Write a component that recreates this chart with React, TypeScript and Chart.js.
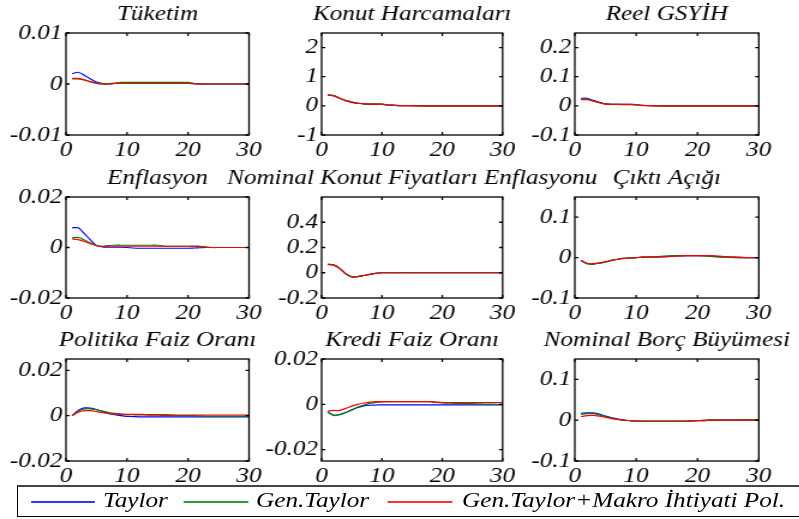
import React, { useEffect, useRef } from "react";
import { Chart, registerables } from "chart.js";
Chart.register(...registerables);

// ---------- data ----------
const periods = [1, 2, 3, 4, 5, 6, 7, 8, 9, 10, 11, 12, 13, 14, 15, 16, 17, 18, 19, 20, 21, 22, 23, 24, 25, 26, 27, 28, 29, 30];
const xTickValues = [0, 10, 20, 30];
const seriesNames = ["Taylor", "Gen.Taylor", "Gen.Taylor+Makro İhtiyati Pol."];
const seriesColors = ["#0000FF", "#008000", "#FF0000"];

const tuketimTaylor = [0.0020, 0.0023, 0.0017, 0.0010, 0.0004, 0.0001, 0.0000, 0.0001, 0.0002, 0.0002, 0.0002, 0.0002, 0.0002, 0.0002, 0.0002, 0.0002, 0.0002, 0.0002, 0.0002, 0.0002, 0.0001, 0.0000, 0.0000, 0.0000, 0.0000, 0.0000, 0.0000, 0.0000, 0.0000, 0.0000];
const tuketimGen = [0.0011, 0.0011, 0.0008, 0.0004, 0.0001, 0.0000, 0.0001, 0.0002, 0.0003, 0.0003, 0.0003, 0.0003, 0.0003, 0.0003, 0.0003, 0.0003, 0.0003, 0.0003, 0.0003, 0.0003, 0.0001, 0.0000, 0.0000, 0.0000, 0.0000, 0.0000, 0.0000, 0.0000, 0.0000, 0.0000];
const tuketimMakro = [0.0010, 0.0010, 0.0008, 0.0005, 0.0002, 0.0000, 0.0000, 0.0001, 0.0001, 0.0001, 0.0001, 0.0001, 0.0001, 0.0001, 0.0001, 0.0001, 0.0001, 0.0001, 0.0001, 0.0001, 0.0000, 0.0000, 0.0000, 0.0000, 0.0000, 0.0000, 0.0000, 0.0000, 0.0000, 0.0000];

const konutTaylor = [0.38, 0.35, 0.26, 0.18, 0.13, 0.09, 0.07, 0.06, 0.06, 0.06, 0.03, 0.02, 0.01, 0.01, 0.01, 0.01, 0.00, 0.00, 0.00, 0.00, 0.00, 0.00, 0.00, 0.00, 0.00, 0.00, 0.00, 0.00, 0.00, 0.00];
const konutGen = [0.37, 0.35, 0.26, 0.18, 0.13, 0.09, 0.07, 0.06, 0.06, 0.06, 0.03, 0.02, 0.01, 0.01, 0.01, 0.00, 0.00, 0.00, 0.00, 0.00, 0.00, 0.00, 0.00, 0.00, 0.00, 0.00, 0.00, 0.00, 0.00, 0.00];
const konutMakro = [0.37, 0.34, 0.25, 0.18, 0.12, 0.09, 0.07, 0.06, 0.06, 0.05, 0.03, 0.02, 0.01, 0.01, 0.00, 0.00, 0.00, 0.00, 0.00, 0.00, 0.00, 0.00, 0.00, 0.00, 0.00, 0.00, 0.00, 0.00, 0.00, 0.00];

const gsyihTaylor = [0.026, 0.026, 0.019, 0.012, 0.007, 0.005, 0.005, 0.005, 0.005, 0.004, 0.002, 0.001, 0.001, 0.000, 0.000, 0.000, 0.000, 0.000, 0.000, 0.000, 0.000, 0.000, 0.000, 0.000, 0.000, 0.000, 0.000, 0.000, 0.000, 0.000];
const gsyihGen = [0.023, 0.023, 0.017, 0.011, 0.007, 0.005, 0.005, 0.005, 0.005, 0.004, 0.002, 0.001, 0.000, 0.000, 0.000, 0.000, 0.000, 0.000, 0.000, 0.000, 0.000, 0.000, 0.000, 0.000, 0.000, 0.000, 0.000, 0.000, 0.000, 0.000];
const gsyihMakro = [0.021, 0.021, 0.016, 0.011, 0.006, 0.005, 0.005, 0.004, 0.004, 0.003, 0.001, 0.001, 0.000, 0.000, 0.000, 0.000, 0.000, 0.000, 0.000, 0.000, 0.000, 0.000, 0.000, 0.000, 0.000, 0.000, 0.000, 0.000, 0.000, 0.000];

const enfTaylor = [0.0078, 0.0078, 0.0055, 0.0030, 0.0008, 0.0002, 0.0001, 0.0001, 0.0001, 0.0000, -0.0002, -0.0003, -0.0003, -0.0003, -0.0003, -0.0003, -0.0003, -0.0003, -0.0003, -0.0003, -0.0002, -0.0001, 0.0000, 0.0000, 0.0000, 0.0000, 0.0000, 0.0000, 0.0000, 0.0000];
const enfGen = [0.0038, 0.0040, 0.0030, 0.0018, 0.0008, 0.0005, 0.0008, 0.0009, 0.0009, 0.0009, 0.0009, 0.0009, 0.0009, 0.0009, 0.0009, 0.0006, 0.0005, 0.0005, 0.0005, 0.0005, 0.0005, 0.0003, 0.0001, 0.0000, 0.0000, 0.0000, 0.0000, 0.0000, 0.0000, 0.0000];
const enfMakro = [0.0034, 0.0031, 0.0024, 0.0015, 0.0007, 0.0004, 0.0005, 0.0005, 0.0005, 0.0005, 0.0005, 0.0005, 0.0005, 0.0005, 0.0005, 0.0005, 0.0005, 0.0005, 0.0005, 0.0005, 0.0005, 0.0005, 0.0002, 0.0000, 0.0000, 0.0000, 0.0000, 0.0000, 0.0000, 0.0000];

const nkfTaylor = [0.068, 0.063, 0.035, -0.008, -0.033, -0.030, -0.022, -0.013, -0.004, 0.000, 0.001, 0.001, 0.001, 0.001, 0.000, 0.000, 0.000, 0.000, 0.000, 0.000, 0.000, 0.000, 0.000, 0.000, 0.000, 0.000, 0.000, 0.000, 0.000, 0.000];
const nkfGen = [0.066, 0.062, 0.034, -0.008, -0.033, -0.030, -0.022, -0.013, -0.004, 0.000, 0.001, 0.001, 0.001, 0.000, 0.000, 0.000, 0.000, 0.000, 0.000, 0.000, 0.000, 0.000, 0.000, 0.000, 0.000, 0.000, 0.000, 0.000, 0.000, 0.000];
const nkfMakro = [0.064, 0.060, 0.033, -0.009, -0.034, -0.031, -0.022, -0.013, -0.005, 0.000, 0.000, 0.000, 0.000, 0.000, 0.000, 0.000, 0.000, 0.000, 0.000, 0.000, 0.000, 0.000, 0.000, 0.000, 0.000, 0.000, 0.000, 0.000, 0.000, 0.000];

const caTaylor = [-0.007, -0.015, -0.016, -0.014, -0.011, -0.007, -0.004, -0.002, -0.001, 0.000, 0.001, 0.001, 0.001, 0.002, 0.003, 0.004, 0.004, 0.005, 0.005, 0.005, 0.005, 0.004, 0.003, 0.002, 0.001, 0.001, 0.000, 0.000, 0.000, 0.000];
const caGen = [-0.007, -0.015, -0.016, -0.014, -0.011, -0.007, -0.004, -0.002, -0.001, 0.000, 0.001, 0.001, 0.002, 0.003, 0.004, 0.005, 0.005, 0.005, 0.005, 0.005, 0.004, 0.003, 0.002, 0.001, 0.001, 0.000, 0.000, 0.000, 0.000, 0.000];
const caMakro = [-0.007, -0.014, -0.015, -0.013, -0.010, -0.007, -0.004, -0.002, -0.001, 0.000, 0.001, 0.001, 0.001, 0.002, 0.002, 0.003, 0.004, 0.005, 0.005, 0.005, 0.005, 0.005, 0.004, 0.003, 0.002, 0.001, 0.001, 0.000, 0.000, 0.000];

const pfTaylor = [0.0000, 0.0023, 0.0034, 0.0033, 0.0027, 0.0018, 0.0010, 0.0004, 0.0000, -0.0003, -0.0004, -0.0005, -0.0005, -0.0005, -0.0005, -0.0005, -0.0005, -0.0005, -0.0005, -0.0005, -0.0005, -0.0005, -0.0005, -0.0005, -0.0005, -0.0005, -0.0005, -0.0005, -0.0005, -0.0005];
const pfGen = [0.0000, 0.0020, 0.0030, 0.0030, 0.0026, 0.0020, 0.0014, 0.0010, 0.0007, 0.0005, 0.0004, 0.0003, 0.0003, 0.0002, 0.0002, 0.0001, 0.0000, 0.0000, 0.0000, 0.0000, 0.0000, -0.0001, -0.0002, -0.0002, -0.0002, -0.0002, -0.0002, -0.0002, -0.0002, -0.0002];
const pfMakro = [0.0000, 0.0015, 0.0022, 0.0022, 0.0018, 0.0013, 0.0009, 0.0007, 0.0006, 0.0006, 0.0006, 0.0006, 0.0005, 0.0005, 0.0005, 0.0005, 0.0004, 0.0003, 0.0003, 0.0003, 0.0003, 0.0003, 0.0003, 0.0003, 0.0003, 0.0003, 0.0003, 0.0003, 0.0003, 0.0003];

const kfTaylor = [-0.0033, -0.0048, -0.0045, -0.0036, -0.0025, -0.0014, -0.0007, -0.0004, -0.0003, -0.0002, -0.0002, -0.0002, -0.0002, -0.0002, -0.0002, -0.0002, -0.0002, -0.0002, -0.0002, -0.0002, -0.0002, -0.0002, -0.0002, -0.0002, -0.0002, -0.0002, -0.0002, -0.0002, -0.0002, -0.0002];
const kfGen = [-0.0035, -0.0049, -0.0046, -0.0036, -0.0024, -0.0012, -0.0003, 0.0004, 0.0009, 0.0011, 0.0012, 0.0012, 0.0012, 0.0012, 0.0012, 0.0012, 0.0012, 0.0012, 0.0008, 0.0006, 0.0005, 0.0004, 0.0004, 0.0003, 0.0003, 0.0002, 0.0001, 0.0001, 0.0000, 0.0000];
const kfMakro = [-0.0030, -0.0027, -0.0027, -0.0018, -0.0008, 0.0000, 0.0006, 0.0010, 0.0012, 0.0012, 0.0012, 0.0012, 0.0012, 0.0012, 0.0012, 0.0012, 0.0012, 0.0012, 0.0010, 0.0008, 0.0008, 0.0008, 0.0008, 0.0008, 0.0008, 0.0008, 0.0008, 0.0008, 0.0008, 0.0008];

const nbTaylor = [0.017, 0.018, 0.018, 0.015, 0.010, 0.006, 0.003, 0.000, -0.001, -0.002, -0.003, -0.003, -0.003, -0.003, -0.003, -0.003, -0.003, -0.003, -0.002, -0.001, -0.001, 0.000, 0.000, 0.000, 0.000, 0.000, 0.000, 0.000, 0.000, 0.000];
const nbGen = [0.014, 0.016, 0.016, 0.013, 0.009, 0.005, 0.002, 0.000, -0.001, -0.002, -0.003, -0.003, -0.003, -0.003, -0.003, -0.003, -0.003, -0.003, -0.002, -0.001, 0.000, 0.000, 0.000, 0.000, 0.000, 0.000, 0.001, 0.001, 0.001, 0.001];
const nbMakro = [0.009, 0.011, 0.012, 0.010, 0.007, 0.004, 0.002, 0.000, -0.001, -0.002, -0.002, -0.002, -0.002, -0.002, -0.002, -0.002, -0.002, -0.002, -0.001, -0.001, -0.001, 0.000, 0.000, 0.000, 0.000, 0.000, 0.000, 0.000, 0.000, 0.000];

// ---------- layout ----------
const S = 1.2; // horizontal stretch of the whole figure
const FONT = "'Liberation Serif', 'Times New Roman', serif";
const FONT_SIZE = 21;
const COLS = [[66, 249], [322, 503], [575, 759]];
const ROWS = [[33, 135], [197, 298], [359, 461]];
const PAD_L = 100, PAD_R = 100, PAD_T = 32, PAD_B = 30;

type PanelCfg = {
  title: string; col: number; row: number;
  min: number; max: number; yTicks: number[]; yLabels: string[];
  series: number[][];
};

const panels: PanelCfg[] = [
  { title: "Tüketim", col: 0, row: 0, min: -0.01, max: 0.01, yTicks: [-0.01, 0, 0.01], yLabels: ["-0.01", "0", "0.01"], series: [tuketimTaylor, tuketimGen, tuketimMakro] },
  { title: "Konut Harcamaları", col: 1, row: 0, min: -1, max: 2.5, yTicks: [-1, 0, 1, 2], yLabels: ["-1", "0", "1", "2"], series: [konutTaylor, konutGen, konutMakro] },
  { title: "Reel GSYİH", col: 2, row: 0, min: -0.1, max: 0.25, yTicks: [-0.1, 0, 0.1, 0.2], yLabels: ["-0.1", "0", "0.1", "0.2"], series: [gsyihTaylor, gsyihGen, gsyihMakro] },
  { title: "Enflasyon", col: 0, row: 1, min: -0.02, max: 0.02, yTicks: [-0.02, 0, 0.02], yLabels: ["-0.02", "0", "0.02"], series: [enfTaylor, enfGen, enfMakro] },
  { title: "Nominal Konut Fiyatları Enflasyonu", col: 1, row: 1, min: -0.2, max: 0.6, yTicks: [-0.2, 0, 0.2, 0.4], yLabels: ["-0.2", "0", "0.2", "0.4"], series: [nkfTaylor, nkfGen, nkfMakro] },
  { title: "Çıktı Açığı", col: 2, row: 1, min: -0.1, max: 0.15, yTicks: [-0.1, 0, 0.1], yLabels: ["-0.1", "0", "0.1"], series: [caTaylor, caGen, caMakro] },
  { title: "Politika Faiz Oranı", col: 0, row: 2, min: -0.02, max: 0.025, yTicks: [-0.02, 0, 0.02], yLabels: ["-0.02", "0", "0.02"], series: [pfTaylor, pfGen, pfMakro] },
  { title: "Kredi Faiz Oranı", col: 1, row: 2, min: -0.025, max: 0.02, yTicks: [-0.02, 0, 0.02], yLabels: ["-0.02", "0", "0.02"], series: [kfTaylor, kfGen, kfMakro] },
  { title: "Nominal Borç Büyümesi", col: 2, row: 2, min: -0.1, max: 0.15, yTicks: [-0.1, 0, 0.1], yLabels: ["-0.1", "0", "0.1"], series: [nbTaylor, nbGen, nbMakro] },
];

const framePlugin = {
  id: "frame",
  afterDraw(chart: any, _args: any, opts: any) {
    const { ctx, chartArea: a, scales } = chart;
    ctx.save();
    ctx.strokeStyle = "#000";
    ctx.lineWidth = 1.3;
    ctx.strokeRect(a.left, a.top, a.right - a.left, a.bottom - a.top);
    ctx.beginPath();
    const tl = 3;
    scales.x.ticks.forEach((t: any) => {
      const px = scales.x.getPixelForValue(t.value);
      ctx.moveTo(px, a.bottom); ctx.lineTo(px, a.bottom - tl);
      ctx.moveTo(px, a.top); ctx.lineTo(px, a.top + tl);
    });
    scales.y.ticks.forEach((t: any) => {
      const py = scales.y.getPixelForValue(t.value);
      ctx.moveTo(a.left, py); ctx.lineTo(a.left + tl, py);
      ctx.moveTo(a.right, py); ctx.lineTo(a.right - tl, py);
    });
    ctx.stroke();
    ctx.font = `italic ${FONT_SIZE}px ${FONT}`;
    ctx.textAlign = "center";
    ctx.textBaseline = "alphabetic";
    ctx.fillStyle = "#000";
    ctx.fillText(opts.text, (a.left + a.right) / 2, a.top - 13);
    ctx.restore();
  },
};

function Panel({ cfg }: { cfg: PanelCfg }) {
  const ref = useRef<HTMLCanvasElement | null>(null);
  const [x0, x1] = COLS[cfg.col];
  const [y0, y1] = ROWS[cfg.row];
  const boxW = (x1 - x0) / S;
  const boxH = y1 - y0;
  const width = Math.round(PAD_L + boxW + PAD_R);
  const height = Math.round(PAD_T + boxH + PAD_B);
  const rightPad = width - PAD_L - boxW;

  useEffect(() => {
    if (!ref.current) return;
    const font = { family: FONT, size: FONT_SIZE, style: "italic" as const };
    const chart = new Chart(ref.current, {
      type: "line",
      data: {
        datasets: cfg.series.map((vals, i) => ({
          label: seriesNames[i],
          data: periods.map((p, j) => ({ x: p, y: vals[j] })),
          borderColor: seriesColors[i],
          backgroundColor: seriesColors[i],
          borderWidth: 1.2,
          pointRadius: 0,
          tension: 0.25,
          fill: false,
          order: 2 - i,
        })),
      },
      options: {
        animation: false,
        responsive: false,
        devicePixelRatio: 1,
        events: [],
        layout: { padding: { top: PAD_T, right: rightPad, left: 0, bottom: 0 } },
        plugins: {
          legend: { display: false },
          tooltip: { enabled: false },
          title: { display: false },
          frame: { text: cfg.title },
        } as any,
        scales: {
          x: {
            type: "linear",
            min: 0,
            max: 30,
            grid: { display: false, drawTicks: false },
            border: { display: false },
            afterBuildTicks: (s: any) => { s.ticks = xTickValues.map((v) => ({ value: v })); },
            afterFit: (s: any) => { s.height = PAD_B; },
            ticks: { font, color: "#000", padding: 3, maxRotation: 0, autoSkip: false, callback: (v: any) => String(v) },
          },
          y: {
            type: "linear",
            min: cfg.min,
            max: cfg.max,
            grid: { display: false, drawTicks: false },
            border: { display: false },
            afterBuildTicks: (s: any) => { s.ticks = cfg.yTicks.map((v) => ({ value: v })); },
            afterFit: (s: any) => { s.width = PAD_L; },
            ticks: {
              font, color: "#000", padding: 3, autoSkip: false,
              callback: (v: any) => {
                const k = cfg.yTicks.findIndex((t) => Math.abs(t - v) < 1e-9);
                return k >= 0 ? cfg.yLabels[k] : "";
              },
            },
          },
        },
      },
      plugins: [framePlugin],
    });
    return () => chart.destroy();
  }, []);

  return (
    <canvas
      ref={ref}
      width={width}
      height={height}
      style={{ position: "absolute", left: x0 / S - PAD_L, top: y0 - PAD_T, width, height }}
    />
  );
}

const legendLines = [[31, 95], [184, 248], [388, 452]];
const legendTextX = [103, 256, 462];

export default function App() {
  return (
    <div
      style={{
        position: "absolute", left: 0, top: 0, width: 799 / S, height: 519,
        overflow: "hidden", transform: `scaleX(${S})`, transformOrigin: "0 0", background: "#fff",
      }}
    >
      {panels.map((p, i) => <Panel key={i} cfg={p} />)}
      <div
        style={{
          position: "absolute", left: 17 / S, top: 485, width: (799 - 17) / S + 10, height: 32,
          borderTop: "2px solid #444", borderLeft: "1px solid #000", borderBottom: "1px solid #000",
          boxSizing: "border-box",
        }}
      />
      {legendLines.map(([a, b], i) => (
        <div key={"l" + i} style={{ position: "absolute", left: a / S, width: (b - a) / S, top: 501, height: 1.5, backgroundColor: seriesColors[i], opacity: 0.8 }} />
      ))}
      {legendTextX.map((x, i) => (
        <span
          key={"t" + i}
          style={{
            position: "absolute", left: x / S, top: 490, fontFamily: FONT, fontStyle: "italic",
            fontSize: FONT_SIZE, lineHeight: FONT_SIZE + "px", whiteSpace: "nowrap", color: "#000",
          }}
        >
          {seriesNames[i]}
        </span>
      ))}
    </div>
  );
}
